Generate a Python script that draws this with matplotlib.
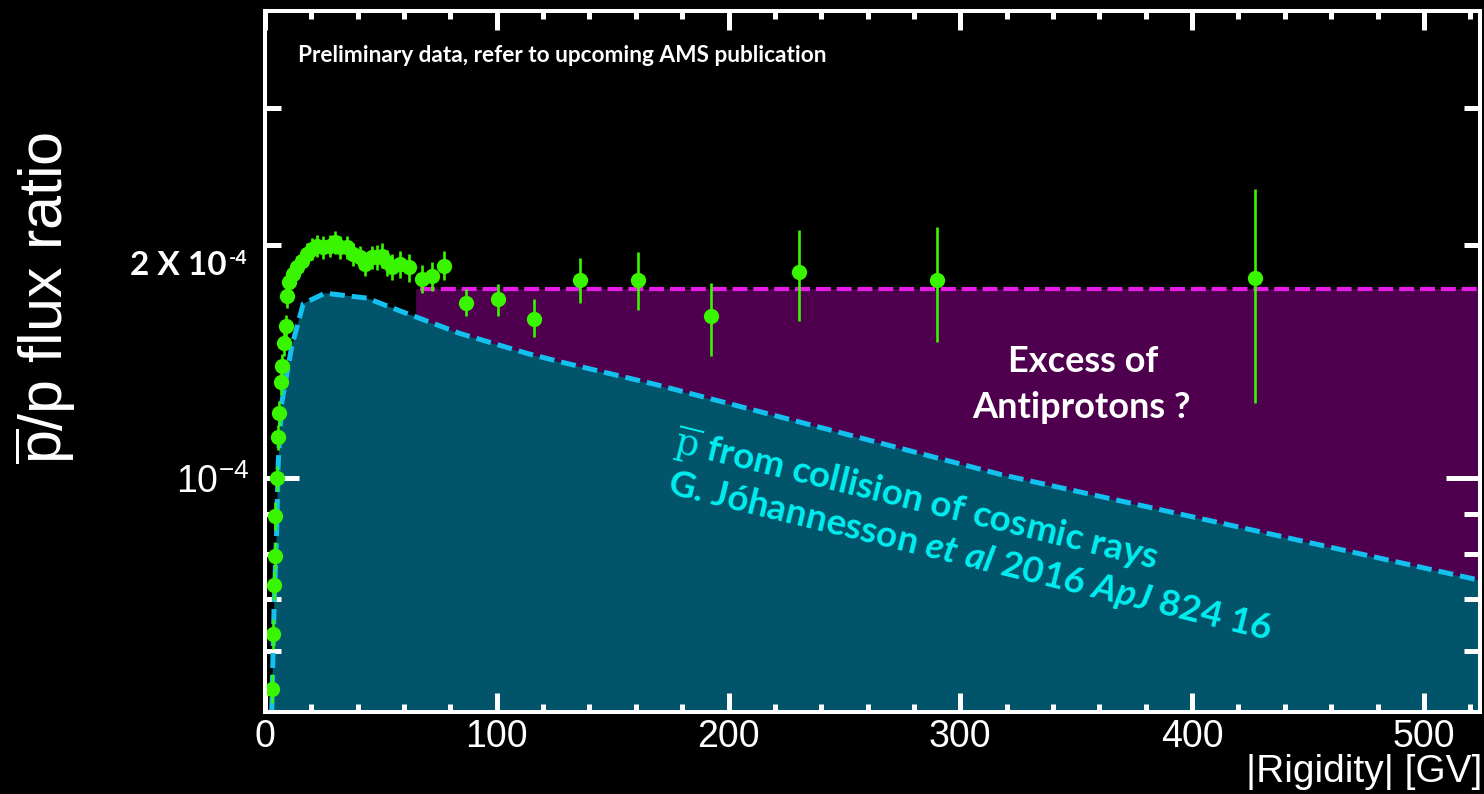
import numpy as np
import matplotlib
matplotlib.use("Agg")
import matplotlib.pyplot as plt
from matplotlib.ticker import NullFormatter

plt.rcParams['font.family'] = ['Liberation Sans', 'DejaVu Sans']
plt.rcParams['mathtext.fontset'] = 'custom'
plt.rcParams['mathtext.rm'] = 'Liberation Sans'
plt.rcParams['mathtext.it'] = 'Lato:italic:bold'
plt.rcParams['mathtext.bf'] = 'Lato:bold'

# AMS antiproton-to-proton flux ratio (values in units of 1e-4)
rigidity = [3.1, 3.5, 3.9, 4.2, 4.5, 5.0, 5.6, 6.1, 6.7, 7.5, 8.2, 9.0, 9.7, 10.3,
            12.2, 13.7, 15.8, 18.0, 20.1, 22.3, 25.2, 28.0, 30.2, 32.4, 35.2, 38.1,
            41.0, 43.1, 46.0, 48.2, 50.3, 52.5, 54.7, 58.2, 62.0, 67.6, 72.1, 77.3,
            86.6, 100.4, 116.2, 135.9, 160.8, 192.4, 230.4, 289.9, 427.1]
ratio = [0.536, 0.631, 0.729, 0.795, 0.895, 1.000, 1.131, 1.214, 1.329, 1.395, 1.492,
         1.570, 1.716, 1.788,
         1.834, 1.870, 1.908, 1.946, 1.975, 1.994, 1.984, 1.994, 2.014, 1.984, 1.984,
         1.946, 1.927, 1.889, 1.927, 1.927, 1.936, 1.897, 1.874, 1.886, 1.870, 1.807,
         1.820, 1.880,
         1.684, 1.701, 1.603, 1.803, 1.803, 1.619, 1.843, 1.803, 1.811]
err_low = [0.023, 0.028, 0.031, 0.034, 0.036, 0.038, 0.042, 0.045, 0.048, 0.050, 0.053,
           0.055, 0.060, 0.062,
           0.060, 0.062, 0.063, 0.064, 0.065, 0.066, 0.066, 0.066, 0.067, 0.066, 0.066,
           0.066, 0.066, 0.066, 0.068, 0.070, 0.072, 0.072, 0.074, 0.076, 0.078, 0.075,
           0.078, 0.080,
           0.065, 0.082, 0.084, 0.119, 0.157, 0.180, 0.248, 0.306, 0.559]
err_high = [0.023, 0.028, 0.031, 0.034, 0.036, 0.038, 0.042, 0.045, 0.048, 0.050, 0.053,
            0.055, 0.060, 0.062,
            0.060, 0.062, 0.063, 0.064, 0.065, 0.066, 0.066, 0.066, 0.067, 0.066, 0.066,
            0.066, 0.066, 0.066, 0.068, 0.070, 0.072, 0.072, 0.074, 0.076, 0.078, 0.075,
            0.078, 0.080,
            0.071, 0.080, 0.098, 0.117, 0.152, 0.167, 0.247, 0.306, 0.551]

# Secondary antiproton prediction (Johannesson et al. 2016), units of 1e-4
model_rigidity = [2.9, 3.9, 5.0, 5.7, 7.2, 11.5, 16.5, 25.9, 43.9, 59.7, 84.1,
                  112.9, 127.3, 169.0, 317.1, 524.2]
model_ratio = [0.50, 0.68, 0.85, 1.047, 1.25, 1.477, 1.679, 1.732, 1.707, 1.637,
               1.537, 1.449, 1.413, 1.320, 1.012, 0.739]

excess_start = 65.0
excess_level = 1.755

x_ticks = [0, 100, 200, 300, 400, 500]
x_tick_labels = ['0', '100', '200', '300', '400', '500']

SCALE = 1e-4
W, H = 1484, 794

r = np.array(rigidity)
y = np.array(ratio) * SCALE
yerr = np.array([err_low, err_high]) * SCALE
mr = np.array(model_rigidity)
my = np.array(model_ratio) * SCALE

fig = plt.figure(figsize=(W / 100, H / 100), dpi=100, facecolor='black')
ax = fig.add_axes([265 / W, 1 - 712 / H, (1480 - 265) / W, (712 - 11) / H])
ax.set_facecolor('black')
ax.set_yscale('log')
ax.set_xlim(0, 524.2)
ax.set_ylim(5e-5, 4e-4)

teal = '#02546a'
purple = '#4e004e'
green = '#39f500'

# shaded regions
ax.fill_between(mr, 1e-6, my, color=teal, lw=0, zorder=1)
xg = np.linspace(excess_start, mr[-1], 400)
curve_g = 10 ** np.interp(xg, mr, np.log10(my))
ax.fill_between(xg, curve_g, excess_level * SCALE, color=purple, lw=0, zorder=1)

ax.plot(mr, my, color='#14c0ee', lw=3.6, dashes=[3.0, 1.4], zorder=3,
        solid_capstyle='butt', dash_capstyle='butt')
ax.plot([excess_start + 2, mr[-1]], [excess_level * SCALE] * 2, color='#e61ce6',
        lw=3.0, dashes=[3.6, 1.4], zorder=3)

ax.errorbar(r, y, yerr=yerr, fmt='o', color=green, ms=11, mew=0,
            elinewidth=1.9, capsize=3.0, capthick=2.2, zorder=5)

# axes styling
for s in ax.spines.values():
    s.set_color('white')
    s.set_linewidth(2.9)
    s.set_zorder(6)

ax.set_xticks(x_ticks, x_tick_labels)
ax.set_xticks(np.arange(0, 521, 20), minor=True)
ax.set_yticks([1e-4], [r'$10^{-4}$'])
ax.set_yticks([6e-5, 7e-5, 8e-5, 9e-5, 2e-4, 3e-4], minor=True)
ax.yaxis.set_minor_formatter(NullFormatter())

ax.tick_params(axis='x', which='major', direction='in', length=13.7, width=3.6,
               color='white', labelcolor='white', labelsize=27, pad=5,
               top=True, bottom=True)
ax.tick_params(axis='x', which='minor', direction='in', length=5.8, width=3.6,
               color='white', top=True, bottom=True)
ax.tick_params(axis='y', which='major', direction='in', length=24.5, width=3.6,
               color='white', labelcolor='white', labelsize=27, pad=11,
               left=True, right=True)
ax.tick_params(axis='y', which='minor', direction='in', length=11.5, width=3.6,
               color='white', left=True, right=True)
for t in ax.get_xticklines() + ax.get_yticklines():
    t.set_zorder(6)


def px(xp, yp):
    return xp / W, 1 - yp / H


fig.text(*px(45, 298), r'$\overline{\mathrm{p}}$/p flux ratio', rotation=90,
         ha='center', va='center', size=44, color='white')
fig.text(*px(1482, 772), '|Rigidity| [GV]', ha='right', va='center', size=28,
         color='white')

fig.text(*px(227, 275), '2 X 10', ha='right', va='baseline', size=24,
         family='Lato', weight='bold', color='white')
fig.text(*px(229, 264), '-4', ha='left', va='baseline', size=14,
         family='Lato', weight='bold', color='white')

fig.text(*px(298, 62), 'Preliminary data, refer to upcoming AMS publication',
         ha='left', va='baseline', size=16.3, family='Lato', weight='bold',
         color='white', zorder=7)

fig.text(*px(1083, 372), 'Excess of', ha='center', va='baseline', size=26,
         family='Lato', weight='bold', color='white', zorder=7)
fig.text(*px(1081, 418), 'Antiprotons ?', ha='center', va='baseline', size=26,
         family='Lato', weight='bold', color='white', zorder=7)

cyan = '#00eef0'
fig.text(*px(672, 452), r'$\overline{\mathrm{p}}$ from collision of cosmic rays',
         rotation=-13.7, rotation_mode='anchor', ha='left', va='baseline',
         size=26.5, family='Lato', weight='bold', color=cyan,
         math_fontfamily='dejavuserif', zorder=7)
fig.text(*px(666, 493), r'G. Jóhannesson $\mathit{et\ al}$ 2016 $\mathit{ApJ}$ 824 16',
         rotation=-13.7, rotation_mode='anchor', ha='left', va='baseline',
         size=26.5, family='Lato', weight='bold', color=cyan, zorder=7)

fig.savefig('out.png', dpi=100, facecolor='black')
